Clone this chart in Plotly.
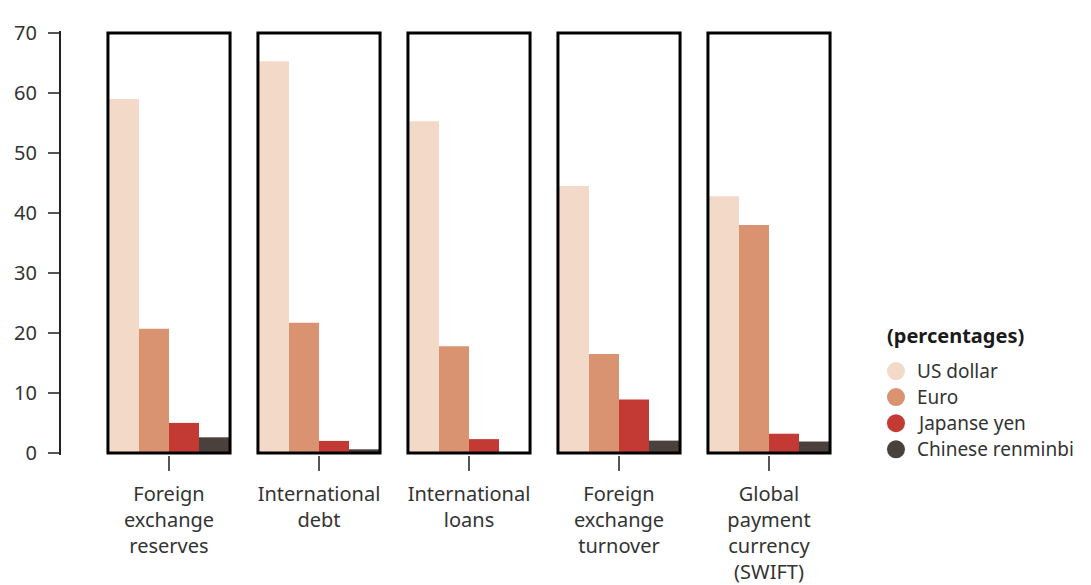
import plotly.graph_objects as go

categories = ["Foreign<br>exchange<br>reserves", "International<br>debt",
              "International<br>loans", "Foreign<br>exchange<br>turnover",
              "Global<br>payment<br>currency<br>(SWIFT)"]
series_names = ["US dollar", "Euro", "Japanse yen", "Chinese renminbi"]
us_dollar = [59.0, 65.3, 55.3, 44.5, 42.8]
euro = [20.7, 21.7, 17.8, 16.5, 38.0]
yen = [5.0, 2.0, 2.3, 8.9, 3.2]
renminbi = [2.6, 0.6, 0.0, 2.05, 1.9]
colors = ["#F3DAC8", "#D99370", "#C33A35", "#4A403C"]
y_ticks = [0, 10, 20, 30, 40, 50, 60, 70]
legend_title = "(percentages)"

FONT = "Noto Sans"
TXT = "#333333"

fig = go.Figure()
for name, vals, col in zip(series_names, [us_dollar, euro, yen, renminbi], colors):
    fig.add_trace(go.Bar(x=categories, y=vals, name=name, marker_color=col,
                         marker_line_width=0, showlegend=False))

for i in range(len(categories)):
    fig.add_shape(type="rect", xref="x", yref="y", x0=i - 0.407, x1=i + 0.407,
                  y0=0, y1=y_ticks[-1], line=dict(color="black", width=3),
                  fillcolor="rgba(0,0,0,0)", layer="above")

# custom legend (circles + text), positioned in paper coordinates
leg_x_title = 1.0524
leg_x_dot = 1.0664
leg_x_text = 1.0905
leg_y_title = 0.283
leg_y0 = 0.198
leg_dy = 0.0615
fig.add_annotation(xref="paper", yref="paper", x=leg_x_title, y=leg_y_title,
                   xanchor="left", yanchor="middle", showarrow=False,
                   text="<b>" + legend_title + "</b>",
                   font=dict(family=FONT, size=20, color="#1a1a1a"))
for k, (name, col) in enumerate(zip(series_names, colors)):
    yy = leg_y0 - k * leg_dy
    fig.add_shape(type="circle", xref="paper", yref="paper",
                  xsizemode="pixel", ysizemode="pixel",
                  xanchor=leg_x_dot, yanchor=yy, x0=-9, x1=9, y0=-9, y1=9,
                  fillcolor=col, line=dict(width=0))
    fig.add_annotation(xref="paper", yref="paper", x=leg_x_text, y=yy,
                       xanchor="left", yanchor="middle", showarrow=False,
                       text=name, font=dict(family=FONT, size=19, color=TXT))

fig.update_layout(
    width=1083, height=577,
    margin=dict(l=53, r=247, t=23, b=130, autoexpand=False),
    paper_bgcolor="white", plot_bgcolor="white",
    barmode="group", bargap=0.2, bargroupgap=0,
    showlegend=False,
    font=dict(family=FONT, size=20, color=TXT),
    xaxis=dict(range=[-0.72, 4.5], showline=False, showgrid=False, zeroline=False,
               automargin=False,
               ticks="outside", ticklen=15, tickwidth=1.5, tickcolor="#555555",
               ticklabelstandoff=6, tickfont=dict(size=20, color=TXT)),
    yaxis=dict(range=[-0.35, 70.35], showline=True, linecolor="#222222", linewidth=2,
               automargin=False,
               showgrid=False, zeroline=False, tickvals=y_ticks,
               ticks="outside", ticklen=11, tickwidth=1.5, tickcolor="#555555",
               ticklabelstandoff=7, tickfont=dict(size=20, color=TXT)),
)

fig.write_html("out.html")
